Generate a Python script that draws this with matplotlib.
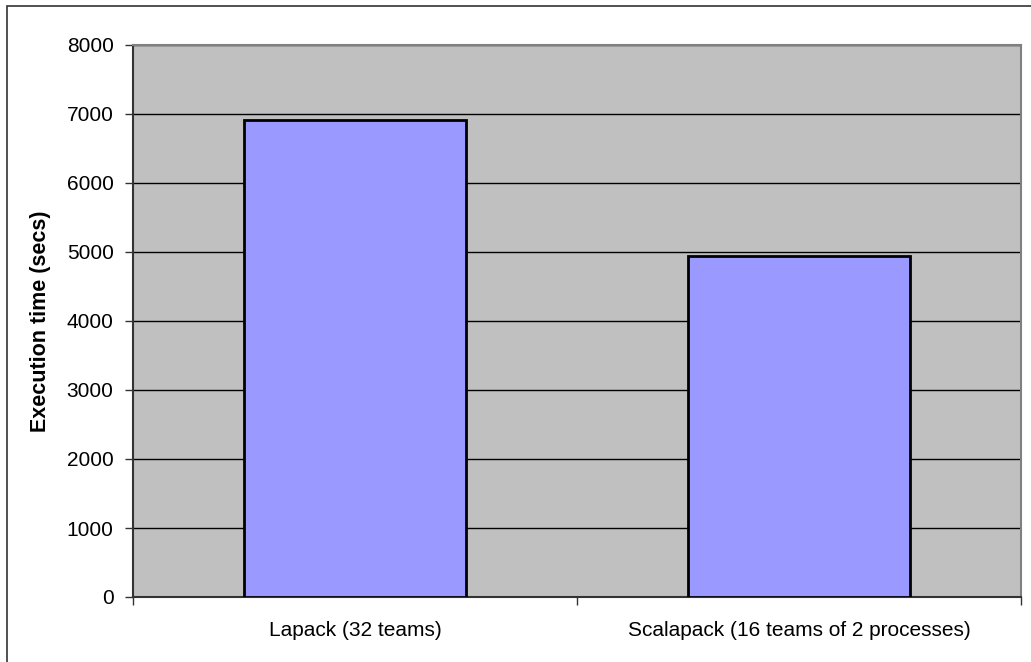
import matplotlib.pyplot as plt
from matplotlib.patches import Rectangle

# Tiempos de ejecución por configuración
configuraciones = ['Lapack (32 teams)', 'Scalapack (16 teams of 2 processes)']
tiempos = [6910, 4940]
marcas_y = [0, 1000, 2000, 3000, 4000, 5000, 6000, 7000, 8000]

plt.rcParams['font.family'] = ['Liberation Sans', 'DejaVu Sans']

fig = plt.figure(figsize=(10.31, 6.62), dpi=100)

# Marco exterior del gráfico (solo se ven los bordes superior e izquierdo)
fig.patches.append(Rectangle((7 / 1031, -0.1), 1.2, 1.1 - 6 / 662,
                             transform=fig.transFigure, fill=False,
                             edgecolor='#333333', linewidth=1.2))

ax = fig.add_axes([133 / 1031, 1 - 597 / 662, 888 / 1031, 552 / 662])
ax.set_facecolor('#C0C0C0')

posiciones = list(range(len(configuraciones)))
ax.bar(posiciones, tiempos, width=0.5, color='#9999FF',
       edgecolor='black', linewidth=2, zorder=3)

ax.set_xlim(-0.5, len(configuraciones) - 0.5)
ax.set_ylim(0, 8000)
ax.set_yticks(marcas_y)
ax.yaxis.grid(True, color='black', linewidth=1.0, zorder=1)
ax.set_axisbelow(True)

# Etiquetas en el centro de cada categoría, marcas en los límites
ax.set_xticks(posiciones)
ax.set_xticklabels(configuraciones, fontsize=15)
ax.tick_params(axis='x', which='major', length=0, pad=17)
ax.set_xticks([p - 0.5 for p in posiciones] + [len(configuraciones) - 0.5], minor=True)
ax.tick_params(axis='x', which='minor', length=6, width=1, color='#333333', direction='out')
ax.tick_params(axis='y', labelsize=15, length=6, width=1, color='#333333', pad=8)

for lado in ['top', 'right']:
    ax.spines[lado].set_color('#808080')
    ax.spines[lado].set_linewidth(1.5)
for lado in ['left', 'bottom']:
    ax.spines[lado].set_color('#333333')
    ax.spines[lado].set_linewidth(1.5)

ax.set_ylabel('Execution time (secs)', fontsize=15.5, fontweight='bold', labelpad=11)

plt.savefig('out.png', dpi=100)
